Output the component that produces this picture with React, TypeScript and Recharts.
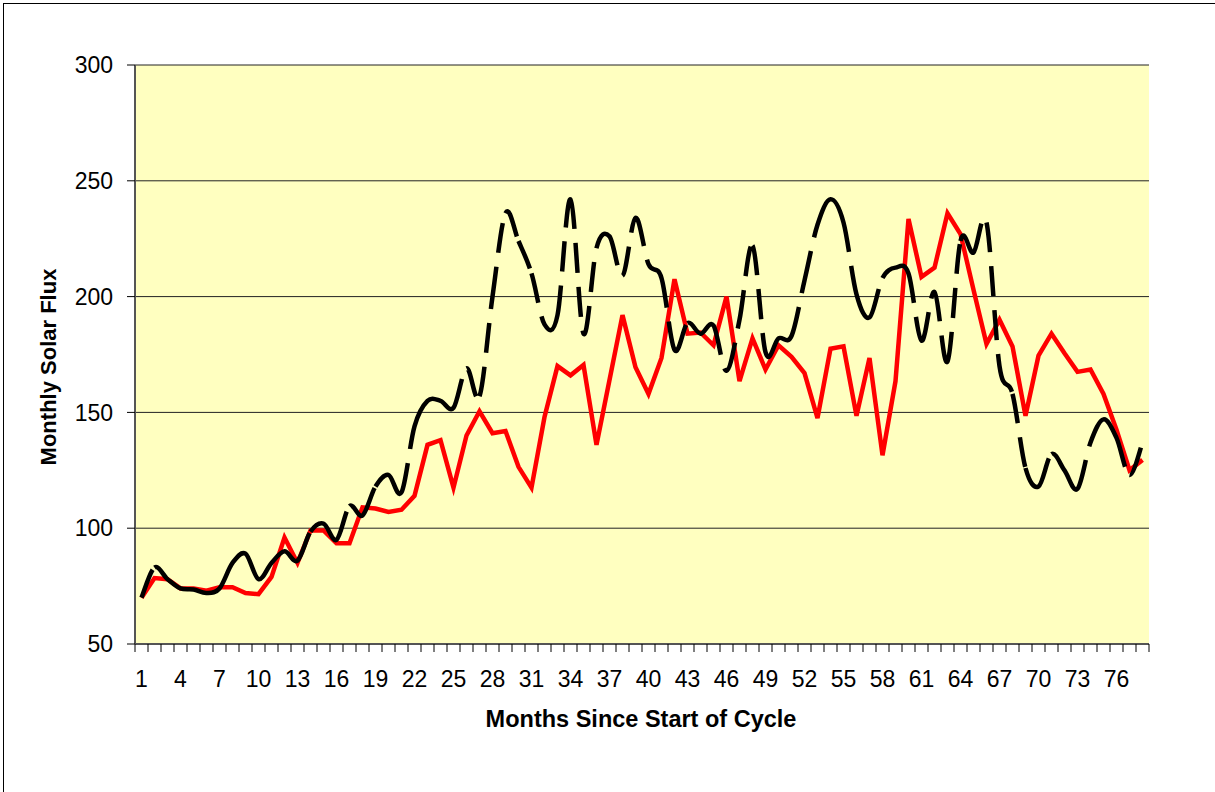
import React from "react";
import { LineChart, Line, XAxis, YAxis, CartesianGrid } from "recharts";

// months since start of cycle (categories)
const months = [
  1, 2, 3, 4, 5, 6, 7, 8, 9, 10, 11, 12, 13, 14, 15, 16, 17, 18, 19, 20,
  21, 22, 23, 24, 25, 26, 27, 28, 29, 30, 31, 32, 33, 34, 35, 36, 37, 38, 39, 40,
  41, 42, 43, 44, 45, 46, 47, 48, 49, 50, 51, 52, 53, 54, 55, 56, 57, 58, 59, 60,
  61, 62, 63, 64, 65, 66, 67, 68, 69, 70, 71, 72, 73, 74, 75, 76, 77, 78,
];

// red solid series
const currentCycle = [
  70, 78.5, 78, 74, 74, 73, 74.5, 74.5, 72, 71.5,
  79, 96, 85, 99, 99, 93.5, 93.5, 109, 108.5, 107,
  108, 114, 136, 138, 117.5, 140, 150.5, 141, 142, 126.5,
  117.5, 148, 170, 166, 170.5, 136, 164, 192, 169.5, 158,
  173.5, 207.5, 184, 184.5, 179, 200, 163.5, 182, 168.5, 179,
  174, 167, 147.5, 177.5, 178.5, 148.5, 173.5, 131.5, 163.5, 233.5,
  208.5, 212.5, 236, 227, 203, 179.5, 190, 178.5, 148.5, 174.5,
  184, 175.5, 167.5, 168.5, 158, 142.5, 125, 129.5,
];

// black dashed, smoothed series
const compareCycle = [
  70, 83, 78, 74, 73.5, 72, 74, 85, 89, 78,
  85, 90, 86, 98.5, 102, 95, 109.5, 105.5, 118, 123,
  115.5, 144, 155, 155, 152, 169, 157, 200, 236, 224,
  210, 188, 192, 242, 184, 221, 226, 209, 234, 214,
  208, 177, 188.5, 184, 187.5, 168, 190, 222, 176, 182,
  183, 207, 231, 242, 232, 201, 191, 208, 212.5, 210,
  181, 202, 172, 224, 219, 232, 170, 158, 126, 118,
  132, 125, 117, 137, 147, 139, 123, 137,
];

const yTicks = [50, 100, 150, 200, 250, 300];

const rows = months.map((m, i) => ({
  month: m,
  current: currentCycle[i],
  compare: compareCycle[i],
}));

const FONT = "'Liberation Sans', Arial, sans-serif";
const HALF_BAND = 6.5;

// Excel-style smoothing; each segment is its own subpath so the dash restarts
const excelSmooth = (context: any) => {
  let pts: number[][] = [];
  return {
    areaStart() {},
    areaEnd() {},
    lineStart() {
      pts = [];
    },
    point(x: number, y: number) {
      pts.push([+x, +y]);
    },
    lineEnd() {
      for (let i = 0; i < pts.length - 1; i++) {
        const p0 = pts[i - 1] || pts[i];
        const p1 = pts[i];
        const p2 = pts[i + 1];
        const p3 = pts[i + 2] || p2;
        context.moveTo(p1[0], p1[1]);
        context.bezierCurveTo(
          p1[0] + (p2[0] - p0[0]) / 6,
          p1[1] + (p2[1] - p0[1]) / 6,
          p2[0] - (p3[0] - p1[0]) / 6,
          p2[1] - (p3[1] - p1[1]) / 6,
          p2[0],
          p2[1]
        );
      }
    },
  };
};

function MonthTick(props: any) {
  const { x, y, payload, index } = props;
  return (
    <g>
      <line x1={x - HALF_BAND} y1={y} x2={x - HALF_BAND} y2={y + 8} stroke="#000" />
      {index === months.length - 1 && (
        <line x1={x + HALF_BAND} y1={y} x2={x + HALF_BAND} y2={y + 8} stroke="#000" />
      )}
      {index % 3 === 0 && (
        <text x={x} y={y + 43} textAnchor="middle" fontSize={23} fontFamily={FONT} fill="#000">
          {payload.value}
        </text>
      )}
    </g>
  );
}

export default function App() {
  return (
    <div style={{ position: "absolute", left: 0, top: 0, width: 1215, height: 792, background: "#fff" }}>
      <div
        style={{
          position: "absolute",
          left: 3,
          top: 3,
          width: 1212,
          height: 789,
          borderTop: "1px solid #000",
          borderLeft: "1px solid #000",
        }}
      />
      <div style={{ position: "absolute", left: 0, top: 0 }}>
        <LineChart width={1215} height={792} data={rows} margin={{ top: 65, right: 66, bottom: 108, left: 0 }}>
          <CartesianGrid horizontal vertical={false} fill="#FFFFC0" stroke="#222" strokeWidth={1} />
          <XAxis
            dataKey="month"
            interval={0}
            padding={{ left: HALF_BAND, right: HALF_BAND }}
            height={40}
            tickSize={0}
            tickMargin={0}
            tickLine={false}
            tick={<MonthTick />}
            axisLine={{ stroke: "#555", strokeWidth: 2 }}
          />
          <XAxis
            xAxisId="top"
            dataKey="month"
            orientation="top"
            height={0}
            tick={false}
            tickLine={false}
            axisLine={{ stroke: "#777", strokeWidth: 2 }}
          />
          <YAxis
            domain={[50, 300]}
            ticks={yTicks}
            width={135}
            tickSize={8}
            tickMargin={14}
            interval={0}
            tick={{ fontSize: 23, fill: "#000", fontFamily: FONT }}
            tickLine={{ stroke: "#000" }}
            axisLine={{ stroke: "#555", strokeWidth: 2 }}
          />
          <YAxis
            yAxisId="right"
            orientation="right"
            domain={[50, 300]}
            ticks={yTicks}
            width={0}
            tick={false}
            tickLine={false}
            axisLine={{ stroke: "#888", strokeWidth: 2 }}
          />
          <Line
            dataKey="current"
            type="linear"
            stroke="#FF0000"
            strokeWidth={4.5}
            dot={false}
            activeDot={false}
            isAnimationActive={false}
          />
          <Line
            dataKey="compare"
            type={excelSmooth as any}
            stroke="#000"
            strokeWidth={4.5}
            strokeDasharray="30 14"
            strokeLinecap="butt"
            dot={false}
            activeDot={false}
            isAnimationActive={false}
          />
        </LineChart>
      </div>
      <svg
        width={1215}
        height={792}
        style={{ position: "absolute", left: 0, top: 0, pointerEvents: "none" }}
      >
        <text x={641} y={727} textAnchor="middle" fontSize={23.5} fontWeight="bold" fontFamily={FONT} fill="#000">
          Months Since Start of Cycle
        </text>
        <text
          transform="translate(56,367) rotate(-90)"
          textAnchor="middle"
          fontSize={22}
          fontWeight="bold"
          fontFamily={FONT}
          fill="#000"
        >
          Monthly Solar Flux
        </text>
      </svg>
    </div>
  );
}
